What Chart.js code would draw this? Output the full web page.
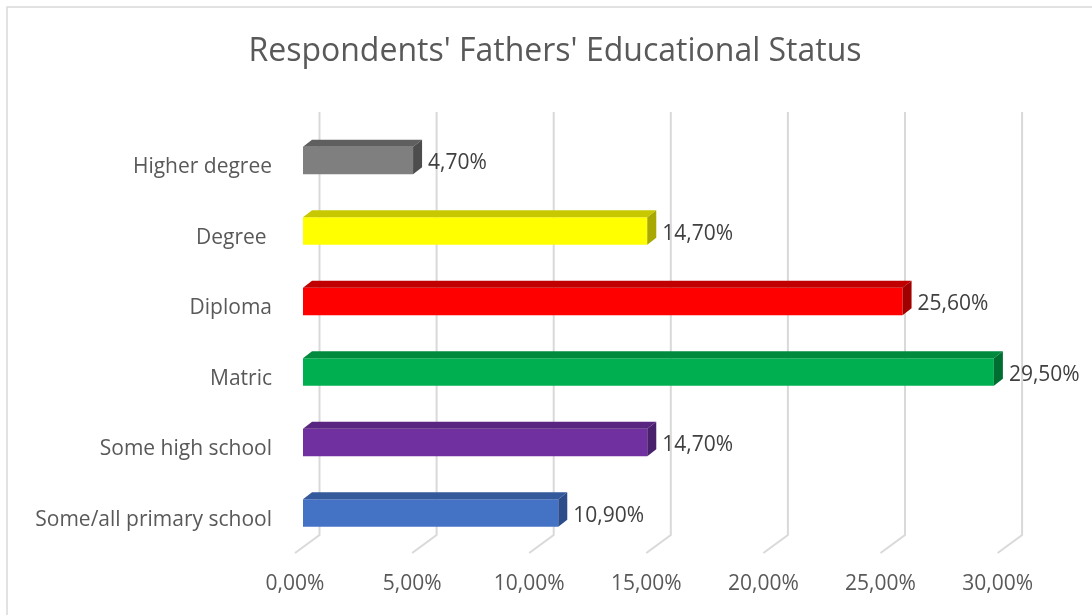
<!DOCTYPE html>
<html>
<head>
<meta charset="utf-8">
<script src="https://cdn.jsdelivr.net/npm/chart.js@4/dist/chart.umd.min.js"></script>
<style>
  body { margin: 0; background: #ffffff; }
</style>
</head>
<body>
<canvas id="grafico" width="1092" height="615"></canvas>
<script>
// data (top to bottom)
const categorias = ['Higher degree', 'Degree ', 'Diploma', 'Matric', 'Some high school', 'Some/all primary school'];
const porcentajes = [4.7, 14.7, 25.6, 29.5, 14.7, 10.9];
const titulo = "Respondents' Fathers' Educational Status";

// styles
const colorFrente = ['#7f7f7f', '#ffff00', '#ff0000', '#00b050', '#7030a0', '#4472c4'];
const colorArriba = ['#5f5f5f', '#c8c800', '#c00000', '#008a3e', '#582680', '#355a9c'];
const colorLado = ['#4d4d4d', '#a8a800', '#a00000', '#006e30', '#48206c', '#2d4d8a'];
const fuente = '"Open Sans", sans-serif';

function formato(v) {
    return v.toFixed(2).replace('.', ',') + '%';
}

const fondo3d = {
    id: 'fondo3d',
    beforeDraw(chart) {
        const ctx = chart.ctx;
        ctx.save();
        // outer border
        ctx.strokeStyle = '#d9d9d9';
        ctx.lineWidth = 1.5;
        ctx.strokeRect(7, 7, 1100, 620);
        // title
        ctx.fillStyle = '#595959';
        ctx.font = '32px ' + fuente;
        ctx.textAlign = 'center';
        ctx.textBaseline = 'middle';
        ctx.fillText(titulo, 555, 52);
        ctx.restore();
    },
    beforeDatasetsDraw(chart) {
        const ctx = chart.ctx;
        const x = chart.scales.x;
        ctx.save();
        ctx.strokeStyle = '#d9d9d9';
        ctx.lineWidth = 2;
        x.ticks.forEach(t => {
            const p = x.getPixelForValue(t.value);
            ctx.beginPath();
            ctx.moveTo(p + 16.5, 112);
            ctx.lineTo(p + 16.5, 535);
            ctx.lineTo(p - 8, 553);
            ctx.stroke();
        });
        ctx.restore();
    },
    afterDatasetsDraw(chart) {
        const ctx = chart.ctx;
        const meta = chart.getDatasetMeta(0);
        const dx = 9, dy = 7;
        ctx.save();
        meta.data.forEach((bar, i) => {
            const l = bar.base, r = bar.x;
            const t = bar.y - bar.height / 2, b = bar.y + bar.height / 2;
            ctx.fillStyle = colorArriba[i];
            ctx.beginPath();
            ctx.moveTo(l, t);
            ctx.lineTo(l + dx, t - dy);
            ctx.lineTo(r + dx, t - dy);
            ctx.lineTo(r, t);
            ctx.closePath();
            ctx.fill();
            ctx.fillStyle = colorLado[i];
            ctx.beginPath();
            ctx.moveTo(r, t);
            ctx.lineTo(r + dx, t - dy);
            ctx.lineTo(r + dx, b - dy);
            ctx.lineTo(r, b);
            ctx.closePath();
            ctx.fill();
            ctx.fillStyle = '#404040';
            ctx.font = '21px ' + fuente;
            ctx.textAlign = 'left';
            ctx.textBaseline = 'middle';
            ctx.fillText(formato(porcentajes[i]), r + dx + 6, bar.y + 3);
        });
        ctx.restore();
    }
};

const ctx = document.getElementById('grafico');

new Chart(ctx, {
    type: 'bar',
    data: {
        labels: categorias,
        datasets: [{
            label: 'Fathers',
            data: porcentajes,
            backgroundColor: colorFrente,
            categoryPercentage: 1,
            barPercentage: 0.39
        }]
    },
    options: {
        indexAxis: 'y',
        responsive: false,
        animation: false,
        layout: {
            padding: { top: 125.25, right: 86.4, left: 0, bottom: 0 }
        },
        scales: {
            x: {
                min: 0,
                max: 30,
                ticks: {
                    stepSize: 5,
                    color: '#595959',
                    font: { family: fuente, size: 21 },
                    padding: 23,
                    labelOffset: -8,
                    callback: v => formato(v)
                },
                grid: { display: false, drawTicks: false },
                border: { display: false },
                afterFit(scale) { scale.height = 615 - 548.25; }
            },
            y: {
                ticks: {
                    color: '#595959',
                    font: { family: fuente, size: 21 },
                    padding: 31,
                    labelOffset: 7
                },
                grid: { display: false, drawTicks: false },
                border: { display: false },
                afterFit(scale) { scale.width = 303; }
            }
        },
        plugins: {
            legend: { display: false },
            title: { display: false },
            tooltip: { enabled: false }
        }
    },
    plugins: [fondo3d]
});
</script>
</body>
</html>
